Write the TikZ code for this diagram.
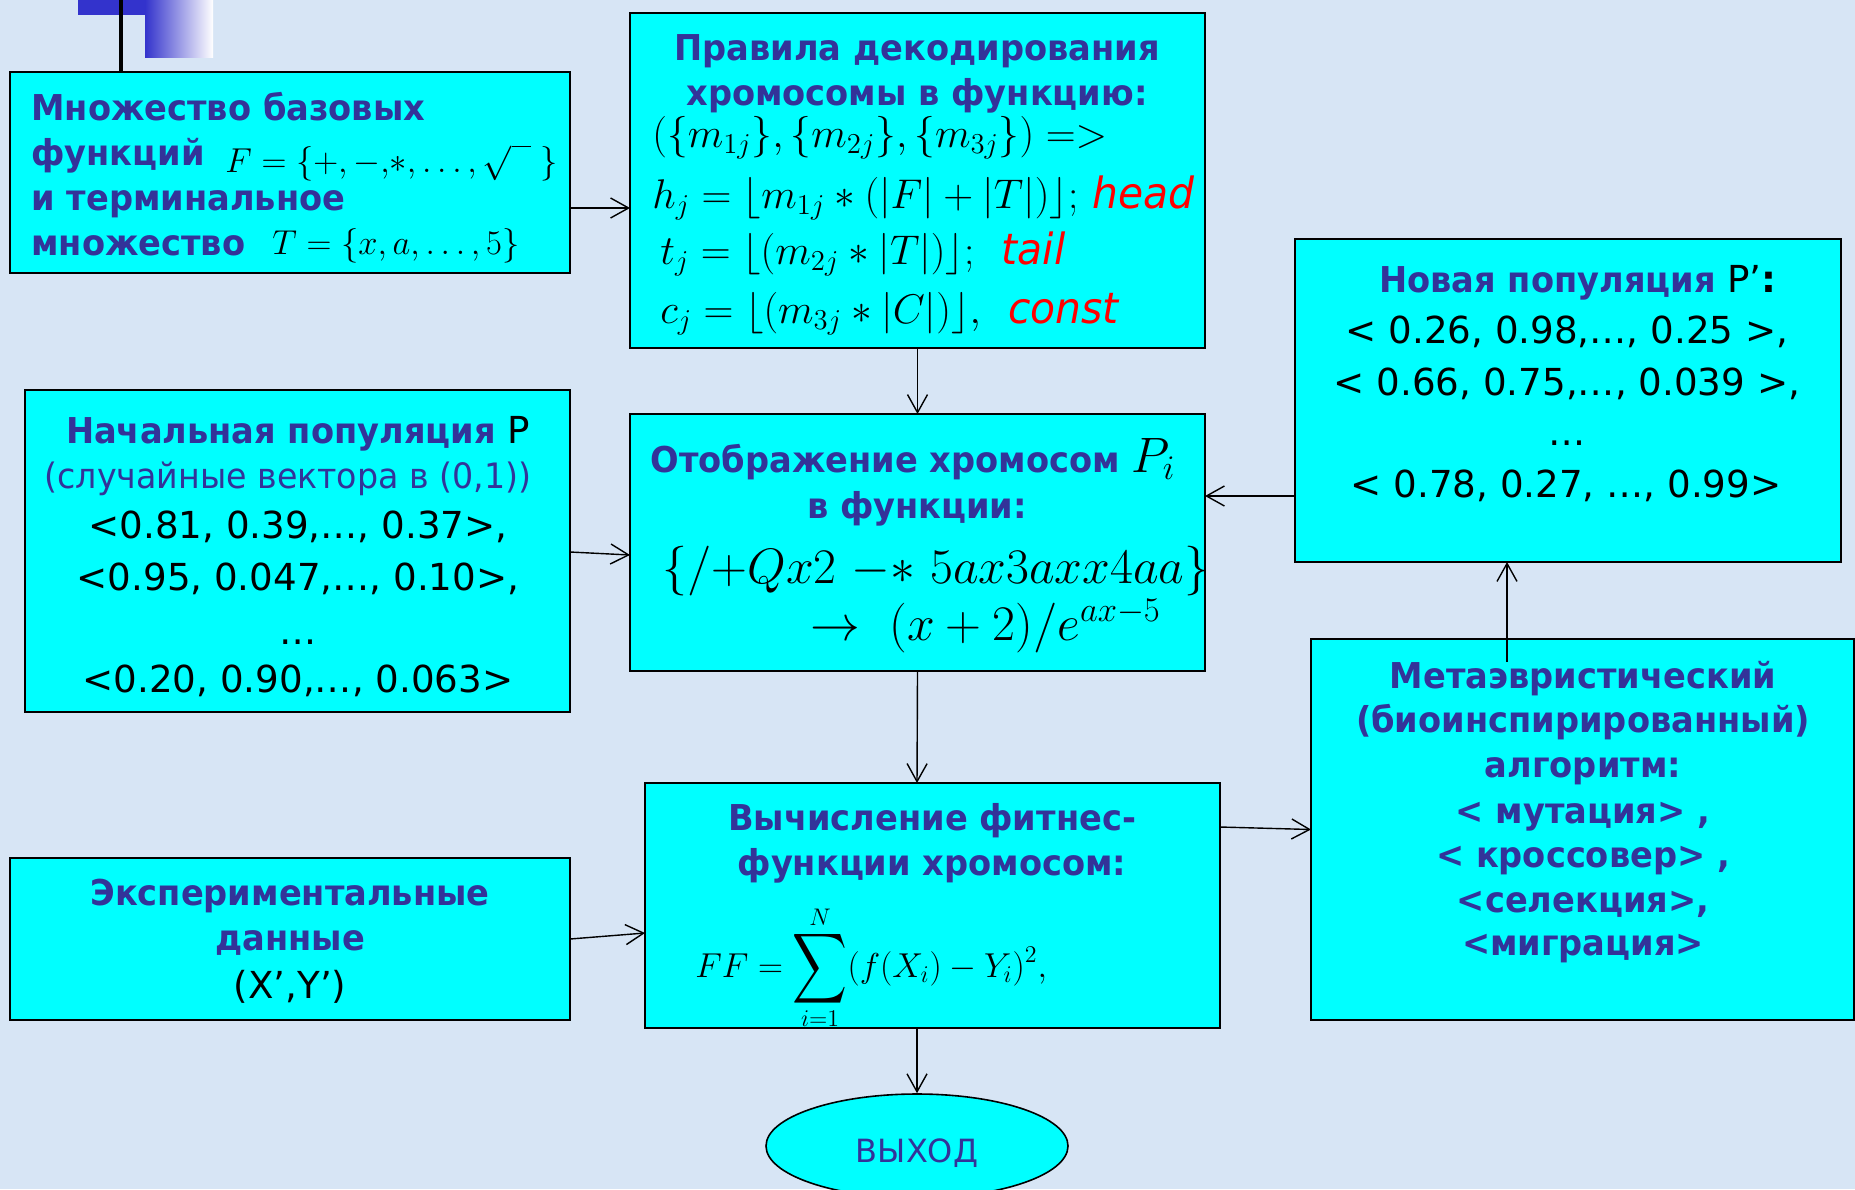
\documentclass[tikz,border=0pt]{standalone}
\usepackage[no-math]{fontspec}
\setmainfont{DejaVu Sans}
\newfontfamily\hfont{DejaVu Sans}[FakeStretch=0.945]
\newfontfamily\rfont{DejaVu Sans}[FakeStretch=0.95]
\usetikzlibrary{arrows.meta,shapes.geometric}
\definecolor{bg}{RGB}{215,229,245}
\definecolor{hblue}{RGB}{51,51,153}
\definecolor{boxc}{RGB}{0,255,255}
\definecolor{decob}{RGB}{51,51,204}
\newcommand{\bigsum}{\mathop{\vcenter{\hbox{\scalebox{1.9}[2.45]{$\displaystyle\sum$}}}}\limits}
\begin{document}
\begin{tikzpicture}[x=0.5pt,y=-0.5pt,
  box/.style={draw=black,line width=1pt,fill=boxc,inner sep=0pt,outer sep=0pt,anchor=north west},
  hd/.style={font=\hfont\bfseries\fontsize{17.8}{21}\selectfont,text=hblue,inner sep=0pt,anchor=base},
  nm/.style={font=\fontsize{18.6}{22}\selectfont,text=black,inner sep=0pt,anchor=base},
  rg/.style={font=\rfont\fontsize{17.5}{21}\selectfont,text=hblue,inner sep=0pt,anchor=base},
  mth/.style={font=\fontsize{21.5}{25}\selectfont,inner sep=0pt,anchor=base west},
  arr/.style={-{Straight Barb[length=9pt,width=10pt]},line width=0.7pt}]

\fill[bg] (0,0) rectangle (1855,1189);
\useasboundingbox (0,0) rectangle (1855,1189);

% decoration top left
\fill[decob] (78,0) rectangle (145,15);
\shade[left color=decob,right color=white] (145,0) rectangle (213,57);
\draw[line width=2.3pt] (121,0) -- (121,72);

% boxes
\node[box,minimum width=280pt,minimum height=100.5pt] (b1) at (10,72) {};
\node[box,minimum width=287.5pt,minimum height=167.5pt] (b2) at (630,13) {};
\node[box,minimum width=272.5pt,minimum height=161pt] (b3) at (25,390) {};
\node[box,minimum width=287.5pt,minimum height=128.5pt] (b4) at (630,414) {};
\node[box,minimum width=273pt,minimum height=161.5pt] (b5) at (1295,239) {};
\node[box,minimum width=271.5pt,minimum height=190.5pt] (b6) at (1311,639) {};
\node[box,minimum width=287.5pt,minimum height=122.5pt] (b7) at (645,783) {};
\node[box,minimum width=280pt,minimum height=81pt] (b8) at (10,858) {};
\node[ellipse,draw=black,line width=0.8pt,fill=boxc,minimum width=151pt,minimum height=52pt,inner sep=0pt] (out) at (917,1146) {};
\node[inner sep=0pt,anchor=base,font=\fontsize{16}{19}\selectfont,text=hblue] (outt) at (917,1162) {ВЫХОД};

% box 1
\node[hd,anchor=base west] (t1a) at (31,120) {Множество базовых};
\node[hd,anchor=base west] (t1b) at (31,165) {функций};
\node[inner sep=0pt,anchor=base west,font=\fontsize{16}{19}\selectfont] (t1c) at (225,172)
  {$F=\{+,-,\!*,\ldots,\sqrt{\phantom{x}}\;\}$};
\node[hd,anchor=base west] (t1d) at (31,210) {и терминальное};
\node[hd,anchor=base west] (t1e) at (31,255) {множество};
\node[inner sep=0pt,anchor=base west,font=\fontsize{17}{20}\selectfont] (t1f) at (272,254)
  {$T=\{x,a,\ldots,5\}$};

% box 2
\node[hd] (t2a) at (917,60) {Правила декодирования};
\node[hd] (t2b) at (917,105) {хромосомы в функцию:};
\node[mth] (t2c) at (652,147) {$(\{m_{1j}\},\{m_{2j}\},\{m_{3j}\})=>$};
\node[mth] (t2d) at (652,208) {$h_j=\bigl\lfloor m_{1j}*(|F|+|T|)\bigr\rfloor;$ \textcolor{red}{\rfont\itshape head}};
\node[mth] (t2e) at (660,264) {$t_j=\Bigl\lfloor\Bigl(m_{2j}*|T|\Bigr)\Bigr\rfloor;$\ \ \textcolor{red}{\rfont\itshape tail}};
\node[mth] (t2f) at (660,323) {$c_j=\Bigl\lfloor\Bigl(m_{3j}*|C|\Bigr)\Bigr\rfloor,$\ \ \textcolor{red}{\rfont\itshape const}};

% box 3
\node[hd] (t3a) at (298,443) {Начальная популяция {\normalfont\fontsize{18.6}{22}\selectfont\color{black}P}};
\node[rg] (t3b) at (288,488) {(случайные вектора в (0,1))};
\node[nm] (t3c) at (298,538) {<0.81, 0.39,…, 0.37>,};
\node[nm] (t3d) at (298,590) {<0.95, 0.047,…, 0.10>,};
\node[nm] (t3e) at (298,644) {…};
\node[nm] (t3f) at (298,692) {<0.20, 0.90,…, 0.063>};

% box 4
\node[hd] (t4a) at (913,472) {Отображение хромосом {\color{black}\fontsize{23}{26}\selectfont$P_i$}};
\node[hd] (t4b) at (917,518) {в функции:};
\node[mth,font=\fontsize{23.8}{28}\selectfont] (t4c) at (662,583) {$\{/{+}Qx2\ {-}{*}\ 5ax3axx4aa\}$};
\node[mth,font=\fontsize{24.2}{28}\selectfont] (t4d) at (810,640) {$\rightarrow\ (x+2)/e^{ax-5}$};

% box 5
\node[hd] (t5a) at (1578,292) {Новая популяция {\normalfont\fontsize{18.6}{22}\selectfont\color{black}P’\textbf{:}}};
\node[nm] (t5b) at (1567,343) {< 0.26, 0.98,…, 0.25 >,};
\node[nm] (t5c) at (1567,395) {< 0.66, 0.75,…, 0.039 >,};
\node[nm] (t5d) at (1567,445) {…};
\node[nm] (t5e) at (1566,497) {< 0.78, 0.27, …, 0.99>};

% box 6
\node[hd] (t6a) at (1583,688) {Метаэвристический};
\node[hd] (t6b) at (1583,732) {(биоинспирированный)};
\node[hd] (t6c) at (1583,777) {алгоритм:};
\node[hd] (t6d) at (1583,823) {< мутация> ,};
\node[hd] (t6e) at (1583,867) {< кроссовер> ,};
\node[hd] (t6f) at (1583,912) {<селекция>,};
\node[hd] (t6g) at (1583,955) {<миграция>};

% box 7
\node[hd] (t7a) at (932,830) {Вычисление фитнес-};
\node[hd] (t7b) at (932,875) {функции хромосом:};
\node[inner sep=0pt,anchor=base west,font=\fontsize{18.5}{22}\selectfont] (t7c) at (695,977)
  {$\displaystyle FF=\bigsum_{i=1}^{N}(f(X_i)-Y_i)^2,$};

% box 8
\node[hd] (t8a) at (290,905) {Экспериментальные};
\node[hd] (t8b) at (290,950) {данные};
\node[nm] (t8c) at (290,998) {(X’,Y’)};

% connectors
\draw[arr] ([yshift=-17.75pt]b1.east) -- ([yshift=-13.75pt]b2.west);
\draw[arr] (b2.south) -- (b4.north);
\draw[arr] ([yshift=-0.5pt]b3.east) -- ([yshift=-6.25pt]b4.west);
\draw[arr] ([yshift=-47.75pt]b5.west) -- ([yshift=23.25pt]b4.east);
\draw[arr] (b4.south) -- ([xshift=-7.75pt]b7.north);
\draw[arr] (b8.east) -- ([yshift=-13.75pt]b7.west);
\draw[arr] ([yshift=39.25pt]b7.east) -- (b6.west);
\draw[arr] ([xshift=-37.75pt,yshift=-11.5pt]b6.north) -- ([xshift=-30.5pt]b5.south);
\draw[arr] ([xshift=-7.75pt]b7.south) -- (out.north);
\end{tikzpicture}
\end{document}
